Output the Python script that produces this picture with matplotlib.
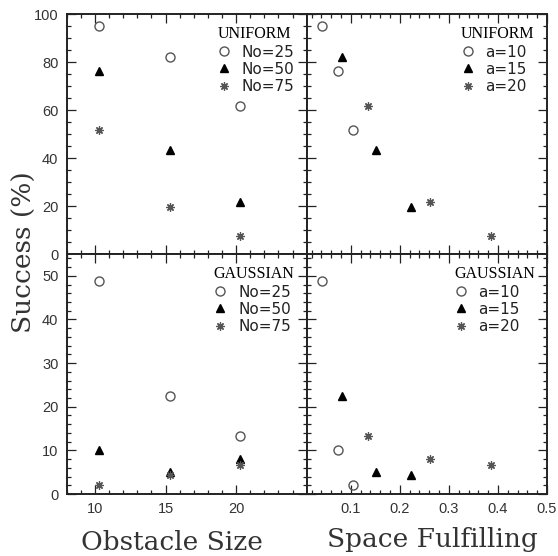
import matplotlib
matplotlib.use("Agg")
import matplotlib.pyplot as plt
from matplotlib.ticker import MultipleLocator, FixedLocator

# ---- data ----
obstacle_size = [10.3, 15.3, 20.3]
labels_no = ["No=25", "No=50", "No=75"]
labels_a = ["a=10", "a=15", "a=20"]
size_ticks = [10, 15, 20]
fill_ticks = [0.1, 0.2, 0.3, 0.4, 0.5]
fill_tick_labels = ["0.1", "0.2", "0.3", "0.4", "0.5"]

# Uniform: success (%) vs obstacle size, per No
uni_no25 = [95.1, 82.2, 61.8]
uni_no50 = [76.2, 43.5, 21.5]
uni_no75 = [51.7, 19.7, 7.5]

# Uniform: success vs space fulfilling, per a
uni_a10_x = [0.041, 0.073, 0.104]
uni_a10_y = [95.1, 76.2, 51.7]
uni_a15_x = [0.081, 0.151, 0.223]
uni_a15_y = [82.2, 43.5, 19.7]
uni_a20_x = [0.136, 0.262, 0.386]
uni_a20_y = [61.8, 21.5, 7.5]

# Gaussian: success vs obstacle size, per No
gau_no25 = [48.7, 22.4, 13.3]
gau_no50 = [10.0, 5.1, 8.0]
gau_no75 = [2.05, 4.3, 6.6]

# Gaussian: success vs space fulfilling, per a
gau_a10_x = [0.041, 0.073, 0.104]
gau_a10_y = [48.7, 10.0, 2.05]
gau_a15_x = [0.081, 0.151, 0.223]
gau_a15_y = [22.4, 5.1, 4.3]
gau_a20_x = [0.136, 0.262, 0.386]
gau_a20_y = [13.3, 8.0, 6.6]

W, H = 558, 556
fig = plt.figure(figsize=(W / 100, H / 100), dpi=100)

def rect(x0, y0, x1, y1):
    return [x0 / W, 1 - y1 / H, (x1 - x0) / W, (y1 - y0) / H]

ax_tl = fig.add_axes(rect(66.7, 14, 306.7, 254))
ax_tr = fig.add_axes(rect(306.7, 14, 547, 254))
ax_bl = fig.add_axes(rect(66.7, 254, 306.7, 494))
ax_br = fig.add_axes(rect(306.7, 254, 547, 494))

circ = dict(marker="o", linestyle="none", markersize=6.5, markerfacecolor="none",
            markeredgecolor="#555555", markeredgewidth=1.0)
tri = dict(marker="^", linestyle="none", markersize=5.5, color="black")
star = dict(marker=(8, 2, 0), linestyle="none", markersize=6, color="#555555",
            markeredgewidth=0.9)

sans = "Liberation Sans"
legsans = "DejaVu Sans"
serif = "Liberation Serif"

def style(ax, xlim, ylim, xticks, xmin_, ymaj, ymin_, xlabels, ylabels):
    ax.set_xlim(*xlim)
    ax.set_ylim(*ylim)
    ax.xaxis.set_major_locator(FixedLocator(xticks))
    ax.xaxis.set_minor_locator(MultipleLocator(xmin_))
    ax.yaxis.set_major_locator(MultipleLocator(ymaj))
    ax.yaxis.set_minor_locator(MultipleLocator(ymin_))
    ax.tick_params(which="both", direction="in", top=True, right=True,
                   labelbottom=xlabels, labelleft=ylabels, width=0.9,
                   colors="#222222", labelcolor="#333333")
    ax.tick_params(which="major", length=6.5, labelsize=10.5, pad=6)
    ax.tick_params(which="minor", length=3.0)
    for lab in ax.get_xticklabels() + ax.get_yticklabels():
        lab.set_fontfamily(sans)
    for s in ax.spines.values():
        s.set_linewidth(1.4)
        s.set_color("#222222")

def legend(ax, title):
    leg = ax.legend(title=title, loc="upper right", frameon=False,
                    prop={"family": legsans, "size": 11},
                    handlelength=0.9, handletextpad=0.7, labelspacing=0.15,
                    borderaxespad=0.5, borderpad=0.3, alignment="left")
    leg.get_title().set_fontfamily(serif)
    leg.get_title().set_fontsize(11.5)
    for t in leg.get_texts():
        t.set_color("#222222")

# top-left
ax_tl.plot(obstacle_size, uni_no25, label=labels_no[0], **circ)
ax_tl.plot(obstacle_size, uni_no50, label=labels_no[1], **tri)
ax_tl.plot(obstacle_size, uni_no75, label=labels_no[2], **star)
style(ax_tl, (8, 25), (0, 100), size_ticks, 1, 20, 5, False, True)
legend(ax_tl, "UNIFORM")

# top-right
ax_tr.plot(uni_a10_x, uni_a10_y, label=labels_a[0], **circ)
ax_tr.plot(uni_a15_x, uni_a15_y, label=labels_a[1], **tri)
ax_tr.plot(uni_a20_x, uni_a20_y, label=labels_a[2], **star)
style(ax_tr, (0.01, 0.5), (0, 100), fill_ticks, 0.02, 20, 5, False, False)
legend(ax_tr, "UNIFORM")

# bottom-left
ax_bl.plot(obstacle_size, gau_no25, label=labels_no[0], **circ)
ax_bl.plot(obstacle_size, gau_no50, label=labels_no[1], **tri)
ax_bl.plot(obstacle_size, gau_no75, label=labels_no[2], **star)
style(ax_bl, (8, 25), (0, 55), size_ticks, 1, 10, 2, True, True)
legend(ax_bl, "GAUSSIAN")

# bottom-right
ax_br.plot(gau_a10_x, gau_a10_y, label=labels_a[0], **circ)
ax_br.plot(gau_a15_x, gau_a15_y, label=labels_a[1], **tri)
ax_br.plot(gau_a20_x, gau_a20_y, label=labels_a[2], **star)
style(ax_br, (0.01, 0.5), (0, 55), fill_ticks, 0.02, 10, 2, True, False)
ax_br.set_xticklabels(fill_tick_labels, fontfamily=sans)
legend(ax_br, "GAUSSIAN")

lab = dict(fontfamily="DejaVu Serif", fontsize=19, color="#333333")
fig.text(172 / W, 1 - 542 / H, "Obstacle Size", ha="center", va="center", **lab)
fig.text(432 / W, 1 - 540 / H, "Space Fulfilling", ha="center", va="center", **lab)
fig.text(24 / W, 1 - 252 / H, "Success (%)", ha="center", va="center",
         rotation=90, **lab)

fig.savefig("out.png", dpi=100)
